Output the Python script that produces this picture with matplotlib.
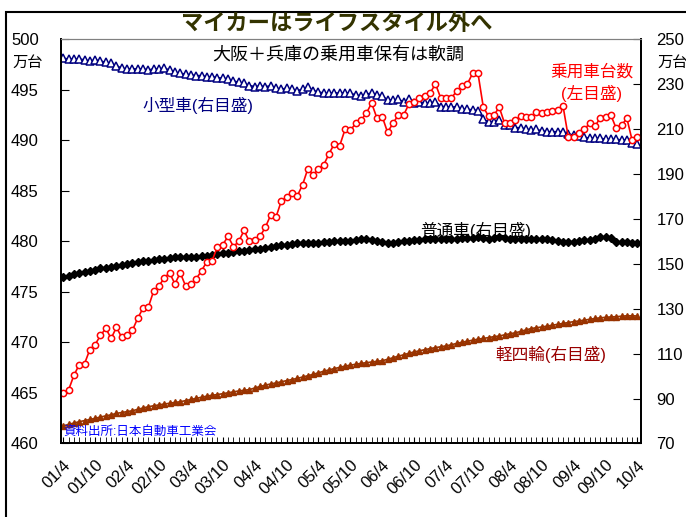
import numpy as np
import matplotlib
matplotlib.use("Agg")
import matplotlib.pyplot as plt
from matplotlib.patches import Rectangle

plt.rcParams['font.family'] = ['Liberation Sans', 'Noto Sans CJK JP']

# monthly, 2001/4 - 2010/4 (万台)
tick_labels = ["01/4", "01/10", "02/4", "02/10", "03/4", "03/10", "04/4",
               "04/10", "05/4", "05/10", "06/4", "06/10", "07/4", "07/10",
               "08/4", "08/10", "09/4", "09/10", "10/4"]

# 乗用車台数 (left axis)
passenger = [
    465.0, 465.3, 466.75, 467.8, 467.9, 469.3, 469.8, 470.7, 471.4, 470.4,
    471.5, 470.5, 470.7, 471.2, 472.4, 473.4, 473.5, 475.1, 475.6, 476.4,
    476.9, 475.8, 476.9, 475.6, 475.8, 476.3, 477.1, 478.0, 478.1, 479.5,
    479.7, 480.5, 479.5, 480.0, 481.1, 480.0, 480.1, 480.5, 481.4, 482.6,
    482.4, 484.0, 484.4, 484.8, 484.5, 485.6, 487.2, 486.6, 487.2, 487.6,
    488.7, 489.7, 489.5, 491.1, 491.0, 491.7, 492.0, 492.7, 493.7, 492.2,
    492.35, 490.8, 491.7, 492.5, 492.5, 493.6, 493.8, 494.2, 494.4, 494.7,
    495.6, 494.2, 494.2, 494.2, 494.9, 495.4, 495.6, 496.65, 496.65, 493.3,
    492.4, 492.5, 493.3, 491.7, 491.7, 492.0, 492.4, 492.3, 492.3, 492.85,
    492.7, 492.8, 492.95, 493.0, 493.4, 490.3, 490.3, 490.7, 491.1, 491.7,
    491.4, 492.25, 492.3, 492.5, 491.2, 491.5, 492.2, 490.0, 490.3,
]

# 小型車 (right axis)
compact = [
    241.6, 241.3, 241.3, 241.3, 240.9, 240.4, 240.9, 240.4, 239.8, 239.4,
    238.3, 237.2, 236.9, 236.9, 236.9, 236.9, 236.4, 236.9, 236.9, 237.2,
    236.4, 235.4, 234.9, 234.5, 234.2, 233.9, 233.9, 233.4, 233.4, 233.0,
    232.7, 232.4, 231.5, 230.9, 230.5, 229.5, 229.0, 229.3, 229.0, 229.3,
    228.3, 227.8, 228.3, 227.8, 227.2, 227.8, 228.7, 227.2, 226.7, 226.0,
    226.0, 226.3, 226.0, 226.3, 226.0, 225.3, 224.8, 225.7, 226.0, 225.3,
    224.8, 223.0, 223.0, 223.3, 222.3, 223.3, 221.6, 222.3, 221.6, 221.6,
    222.3, 220.1, 220.1, 219.8, 220.1, 218.9, 218.9, 218.6, 218.3, 214.4,
    213.4, 213.4, 214.1, 211.9, 211.9, 210.7, 210.7, 210.0, 209.7, 210.0,
    209.2, 208.9, 208.9, 208.9, 208.9, 207.9, 207.4, 207.0, 206.4, 206.0,
    206.0, 206.0, 205.5, 205.5, 205.5, 205.2, 205.2, 203.7, 203.4,
]

# 普通車 (right axis)
standard = [
    144.0, 144.8, 145.4, 145.9, 146.5, 147.0, 147.5, 148.0, 148.3, 148.8,
    149.3, 149.7, 150.0, 150.3, 150.8, 151.1, 151.4, 151.7, 152.0, 152.4,
    152.7, 152.9, 152.9, 153.0, 153.0, 153.2, 153.4, 153.6, 154.0, 154.4,
    154.7, 155.0, 155.3, 155.6, 155.9, 156.2, 156.5, 156.8, 157.1, 157.5,
    157.9, 158.3, 158.6, 158.9, 159.2, 159.2, 159.3, 159.3, 159.5, 159.7,
    159.9, 160.0, 160.1, 160.3, 160.4, 160.6, 160.9, 161.1, 160.8, 160.3,
    159.8, 159.4, 159.5, 159.9, 160.1, 160.4, 160.6, 160.8, 161.0, 161.0,
    161.0, 161.1, 161.0, 160.9, 161.2, 161.4, 161.4, 161.6, 161.9, 161.6,
    161.3, 161.5, 161.9, 161.5, 161.3, 161.1, 161.1, 161.1, 161.1, 161.1,
    161.1, 160.9, 160.6, 160.3, 159.9, 159.9, 159.9, 160.3, 160.6, 160.6,
    161.1, 161.9, 161.9, 161.6, 159.6, 159.9, 159.9, 159.4, 159.2,
]

# 軽四輪 (right axis)
kei = [
    77.8, 78.5, 79.1, 79.7, 80.2, 80.7, 81.2, 81.8, 82.3, 82.8,
    83.4, 83.8, 84.2, 84.6, 85.2, 85.8, 86.4, 86.8, 87.2, 87.6,
    87.9, 88.3, 88.6, 89.1, 89.6, 90.1, 90.6, 91.1, 91.5, 91.8,
    92.2, 92.6, 93.0, 93.4, 93.7, 94.0, 94.7, 95.4, 96.0, 96.5,
    97.0, 97.5, 98.0, 98.5, 99.0, 99.6, 100.2, 100.8, 101.5, 102.2,
    102.8, 103.4, 103.9, 104.5, 104.9, 105.3, 105.7, 106.0, 106.3, 106.6,
    106.9, 107.5, 108.2, 108.9, 109.5, 110.2, 110.8, 111.3, 111.8, 112.3,
    112.7, 113.1, 113.5, 114.0, 114.6, 115.1, 115.6, 116.0, 116.5, 116.8,
    117.2, 117.6, 117.9, 118.4, 118.9, 119.3, 119.9, 120.6, 121.2, 121.6,
    121.9, 122.3, 122.7, 123.1, 123.5, 123.9, 124.3, 124.6, 125.0, 125.3,
    125.7, 126.0, 126.2, 126.4, 126.5, 126.7, 126.9, 126.9, 126.8,
]

x = np.arange(len(passenger))
W, H = 686, 517


def px(xp, yp):
    return xp / W, 1 - yp / H


fig = plt.figure(figsize=(W / 100, H / 100), dpi=100)
ax = fig.add_axes([0.0889, 0.1422, 0.8455, 0.7814])
ax2 = ax.twinx()

ax2.plot(x, compact, color="#000080", lw=1.2, marker="^", ms=5.5,
         mfc="white", mec="#000080", mew=1.1)
ax2.plot(x, standard, color="black", lw=1.2, marker="D", ms=4.5,
         mfc="black", mec="black")
ax2.plot(x, kei, color="#993300", lw=1.2, marker="^", ms=3.8,
         mfc="#993300", mec="#993300")
ax.plot(x, passenger, color="red", lw=1.2, marker="o", ms=4.5,
        mfc="white", mec="red", mew=1.1)

ax.set_zorder(ax2.get_zorder() + 1)
ax.patch.set_visible(False)

ax.set_xlim(-0.43, 108.66)
ax.set_ylim(460, 500)
ax.set_yticks(np.arange(460, 501, 5))
ax2.set_ylim(70, 250)
ax2.set_yticks(np.arange(70, 251, 20))

ax.set_xticks(x[::6], tick_labels, rotation=45, ha="right", va="top",
              rotation_mode="anchor", fontsize=12)
ax.set_xticks(x, minor=True)
ax.tick_params(axis="x", which="both", direction="in", length=4, pad=10)
ax.tick_params(axis="y", direction="in", length=6, pad=16, labelsize=12)
ax2.tick_params(axis="y", direction="in", length=6, pad=11, labelsize=12)

for a in (ax, ax2):
    a.spines["top"].set_color("#808080")
    for side in ("left", "right", "bottom"):
        a.spines[side].set_linewidth(1.3)

# outer frame
fig.add_artist(Rectangle(px(6, 560), 1.2, (560 - 12) / H, fill=False,
                         lw=1.5, ec="black", transform=fig.transFigure))

fig.text(*px(337, 25), "マイカーはライフスタイル外へ", ha="center", va="center",
         fontsize=16, fontweight="bold", color="#333300")
fig.text(*px(338, 55), "大阪＋兵庫の乗用車保有は軟調", ha="center", va="center",
         fontsize=13, color="black")
fig.text(*px(198, 105), "小型車(右目盛)", ha="center", va="center",
         fontsize=12, color="#000080")
fig.text(*px(476, 230), "普通車(右目盛)", ha="center", va="center",
         fontsize=12, color="black")
fig.text(*px(551, 354), "軽四輪(右目盛)", ha="center", va="center",
         fontsize=12, color="#990000")
fig.text(*px(592, 72), "乗用車台数", ha="center", va="center",
         fontsize=12, color="red")
fig.text(*px(592, 93), "(左目盛)", ha="center", va="center",
         fontsize=12, color="red")
fig.text(*px(63, 432), "資料出所:日本自動車工業会", ha="left", va="center",
         fontsize=9, color="blue")
fig.text(*px(12, 63), "万台", ha="left", va="center", fontsize=11)
fig.text(*px(657, 63), "万台", ha="left", va="center", fontsize=11)

fig.savefig("out.png", dpi=100)
